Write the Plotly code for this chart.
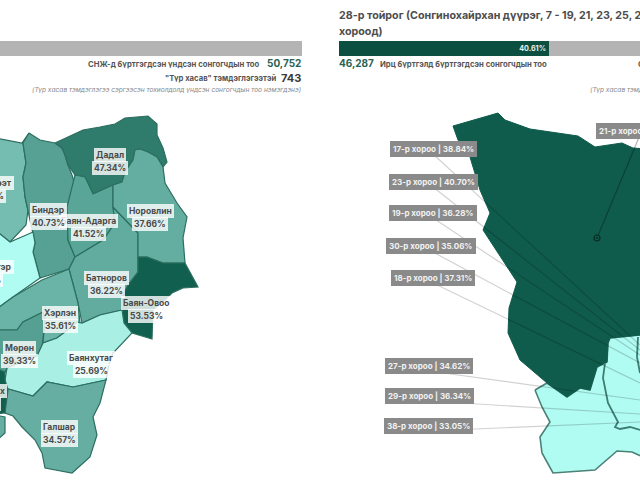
import plotly.graph_objects as go

FONT = "Inter"

# --- left map: aimag soums, outlines ---
soum_colors = ["#74bdb0", "#56a194", "#2f7b6c", "#59a698", "#62ab9f", "#64aea1", "#11604f",
               "#b0fbf2", "#6ab4a7", "#55a093", "#a9efe4", "#66aea2", "#11604f", "#66aea2"]

batshireet = [(-5, 138), (22, 143), (29, 133), (23, 143), (26, 163), (23, 177), (25, 197), (28, 210), (26, 225), (10, 242), (-5, 230)]
binder = [(29, 133), (40, 140), (55, 143), (62, 148), (65, 155), (68, 165), (72, 175), (75, 185), (67, 207), (68, 240), (75, 257), (69, 269), (40, 278), (33, 252), (35, 243), (32, 230), (28, 210), (25, 197), (23, 177), (26, 163), (23, 143)]
dadal = [(55, 143), (83, 130), (100, 127), (115, 124), (125, 118), (148, 116), (157, 124), (157, 135), (163, 148), (167, 162), (163, 167), (157, 157), (148, 152), (140, 149), (135, 150), (133, 160), (125, 172), (122, 182), (110, 188), (93, 194), (85, 177), (75, 175), (68, 165), (65, 155), (62, 148)]
bayan_adarga = [(75, 175), (85, 177), (93, 194), (113, 185), (113, 207), (115, 223), (103, 240), (75, 257), (68, 240), (67, 207)]
batnorov = [(113, 207), (138, 233), (138, 257), (138, 272), (128, 285), (122, 297), (122, 310), (100, 315), (82, 323), (78, 303), (69, 269), (75, 257), (103, 240), (115, 223)]
norovlin = [(135, 150), (140, 149), (148, 152), (157, 157), (163, 167), (165, 183), (177, 203), (187, 217), (183, 238), (185, 263), (163, 263), (147, 257), (138, 257), (138, 233), (113, 207), (113, 185), (122, 182), (125, 172), (133, 160)]
bayan_ovoo = [(138, 257), (147, 257), (163, 263), (185, 263), (198, 287), (183, 288), (172, 293), (165, 300), (153, 310), (152, 339), (132, 333), (124, 323), (122, 310), (122, 297), (128, 285), (138, 272)]
umnudelger = [(-5, 230), (10, 242), (33, 232), (35, 243), (33, 252), (40, 278), (13, 297), (-5, 310)]
herlen = [(-5, 310), (13, 297), (42, 280), (69, 269), (78, 303), (80, 323), (65, 332), (57, 338), (43, 343), (45, 320), (43, 312), (23, 322), (17, 330), (-5, 330)]
muren = [(-5, 330), (17, 330), (23, 322), (43, 312), (45, 320), (43, 340), (42, 347), (37, 356), (7, 368), (5, 372), (-5, 370)]
bayanhutag = [(122, 310), (100, 315), (82, 323), (77, 322), (65, 332), (57, 338), (43, 343), (37, 356), (7, 368), (5, 380), (5, 388), (33, 396), (47, 382), (73, 387), (106, 380), (109, 365), (113, 353), (132, 333), (124, 323)]
galshar = [(5, 388), (33, 396), (47, 382), (73, 387), (106, 380), (100, 403), (93, 417), (97, 435), (90, 457), (72, 473), (45, 468), (42, 453), (35, 440), (22, 427), (13, 416), (5, 413)]
bayanmunkh = [(-5, 368), (5, 372), (5, 380), (8, 390), (5, 413), (-5, 414)]
darkhan = [(-5, 415), (5, 417), (5, 433), (-5, 442)]
soum_shapes = [batshireet, binder, dadal, bayan_adarga, batnorov, norovlin, bayan_ovoo,
               umnudelger, herlen, muren, bayanhutag, galshar, bayanmunkh, darkhan]

soum_names = ["Дадал", "Норовлин", "Баян-Адарга", "Биндэр", "Батноров", "Баян-Овоо", "Хэрлэн", "Мөрөн", "Баянхутаг", "Галшар"]
soum_pct = ["47.34%", "37.66%", "41.52%", "40.73%", "36.22%", "53.53%", "35.61%", "39.33%", "25.69%", "34.57%"]
soum_label_x = [110, 150, 88, 48, 106, 146, 60, 19, 91, 59]
soum_label_y = [155, 211, 221, 210, 278, 303, 313, 348, 358, 427]

# names cut off by the left edge of the picture
cut_names = ["Батширээт", "Өмнөдэлгэр", "Баянмөнх"]
cut_pct = ["38.10%", "25.90%", "53.10%"]
cut_right = [14, 14, 7]
cut_pct_right = [6, 3, 1]
cut_y = [183, 267, 391]

# --- right map ---
dark_area = [(453, 126), (498, 113), (505, 120), (530, 129), (578, 136), (595, 147), (622, 143), (633, 148), (660, 150), (660, 333), (640, 335), (610, 338), (608, 343), (607, 362), (597, 367), (590, 390), (580, 388), (567, 397), (547, 383), (520, 360), (508, 333), (509, 308), (517, 282), (490, 240), (483, 230), (490, 213), (480, 190), (470, 157), (458, 140)]
light_area = [(535, 390), (547, 383), (567, 397), (580, 388), (590, 390), (597, 367), (607, 362), (608, 343), (610, 338), (640, 335), (660, 335), (660, 465), (632, 452), (617, 451), (595, 470), (553, 473), (542, 453), (540, 437), (550, 422), (542, 407)]
inner_border_a = [(605, 363), (603, 378), (608, 403), (618, 422), (615, 427), (620, 429), (630, 427), (640, 430)]
inner_border_b = [(638, 337), (637, 357), (640, 373)]

khoroo_labels = ["17-р хороо | 38.84%", "23-р хороо | 40.70%", "19-р хороо | 36.28%", "30-р хороо | 35.06%",
                 "18-р хороо | 37.31%", "27-р хороо | 34.62%", "29-р хороо | 36.34%", "38-р хороо | 33.05%"]
khoroo_x = [433, 433, 433, 431, 433, 429, 429, 428]
khoroo_y = [149, 182, 213, 246, 278, 366, 396, 426]
leader_end_x = [640, 640, 640, 640, 640, 640, 640, 640]
leader_end_y = [345, 350, 355, 363, 383, 400, 414, 422]

# --- header figures ---
turnout_pct = 40.61
rest_pct = 100 - turnout_pct
bar_total = 100


def poly(points):
    return [p[0] for p in points] + [points[0][0]], [p[1] for p in points] + [points[0][1]]


fig = go.Figure()

for shape, colour in zip(soum_shapes, soum_colors):
    xs, ys = poly(shape)
    fig.add_scatter(x=xs, y=ys, mode="lines", fill="toself", fillcolor=colour,
                    line=dict(color="#2c6e60", width=1.2), hoverinfo="skip", showlegend=False)

xs, ys = poly(light_area)
fig.add_scatter(x=xs, y=ys, mode="lines", fill="toself", fillcolor="#b0fbf2",
                line=dict(color="#4a8278", width=1.6), hoverinfo="skip", showlegend=False)
xs, ys = poly(dark_area)
fig.add_scatter(x=xs, y=ys, mode="lines", fill="toself", fillcolor="#0f5c4c",
                line=dict(color="#0f5c4c", width=1), hoverinfo="skip", showlegend=False)
for border in (inner_border_a, inner_border_b):
    fig.add_scatter(x=[p[0] for p in border], y=[p[1] for p in border], mode="lines",
                    line=dict(color="#3d7d72", width=1.8), hoverinfo="skip", showlegend=False)

# leader lines, see-through so they go darker over the map
for lx, ly, ex, ey in zip(khoroo_x, khoroo_y, leader_end_x, leader_end_y):
    fig.add_scatter(x=[lx, ex], y=[ly + 5, ey], mode="lines",
                    line=dict(color="rgba(0,0,0,0.18)", width=1.2), hoverinfo="skip", showlegend=False)
fig.add_scatter(x=[640, 597], y=[135, 238], mode="lines", line=dict(color="rgba(0,0,0,0.3)", width=1.2),
                hoverinfo="skip", showlegend=False)
fig.add_scatter(x=[597], y=[238], mode="markers", hoverinfo="skip", showlegend=False,
                marker=dict(size=6, color="#0f5c4c", line=dict(color="#06281f", width=1.2)))
fig.add_scatter(x=[597], y=[238], mode="markers", hoverinfo="skip", showlegend=False,
                marker=dict(size=2, color="#06281f"))

# turnout bars, each on its own axis
fig.add_bar(x=[turnout_pct], y=[0], orientation="h", marker=dict(color="#0b4f40", line_width=0),
            text=[f"<b>{turnout_pct}%</b>"], textposition="inside", insidetextanchor="end", textangle=0,
            textfont=dict(family=FONT, size=8, color="#e8f0ee"), xaxis="x2", yaxis="y2",
            showlegend=False, hoverinfo="skip")
fig.add_bar(x=[rest_pct], y=[0], orientation="h", marker=dict(color="#b4b4b4", line_width=0),
            xaxis="x2", yaxis="y2", showlegend=False, hoverinfo="skip")
fig.add_bar(x=[bar_total], y=[0], orientation="h", marker=dict(color="#b4b4b4", line_width=0),
            xaxis="x3", yaxis="y2", showlegend=False, hoverinfo="skip")

anns = []


def txt(x, y, s, anchor="left", size=8, color="#555555", borderpad=0, **kw):
    anns.append(dict(x=x, y=y, text=s, xref="x", yref="y", showarrow=False, xanchor=anchor, yanchor="middle",
                     borderwidth=0, borderpad=borderpad, font=dict(family=FONT, size=size, color=color), **kw))


def map_label(x, y, s, anchor="center"):
    txt(x, y, "<b>" + s + "</b>", anchor=anchor, size=8.5, color="#4a4a4a",
        bgcolor="rgba(255,255,255,0.8)", borderpad=2)


for name, pct, x, y in zip(soum_names, soum_pct, soum_label_x, soum_label_y):
    map_label(x, y, name)
    map_label(x, y + 13, pct)
for name, pct, x, px, y in zip(cut_names, cut_pct, cut_right, cut_pct_right, cut_y):
    map_label(x, y, name, anchor="right")
    map_label(px, y + 13, pct, anchor="right")

for s, x, y in zip(khoroo_labels, khoroo_x, khoroo_y):
    txt(x, y, "<b>" + s + "</b>", anchor="center", size=8, color="#f2f2f2", bgcolor="#8a8a8a", borderpad=3)
txt(596, 131, "<b>21-р хороо | 36.12%</b>", size=8, color="#f2f2f2", bgcolor="#8a8a8a", borderpad=3)

# header text
txt(260, 64, "<b>СНЖ-д бүртгэгдсэн үндсэн сонгогчдын тоо</b>", anchor="right", size=7.7)
txt(301, 63, "<b>50,752</b>", anchor="right", size=10, color="#2a6355")
txt(276, 78, "<b>\"Түр хасав\" тэмдэглэгээтэй</b>", anchor="right", size=7.7)
txt(301, 78, "<b>743</b>", anchor="right", size=11, color="#3a3a3a")
txt(301, 90, "<i>(Түр хасав тэмдэглэгээ сэргээсэн тохиолдолд үндсэн сонгогчдын тоо нэмэгдэнэ)</i>",
    anchor="right", size=6.6, color="#888888")
txt(339, 15, "<b>28-р тойрог (Сонгинохайрхан дүүрэг, 7 - 19, 21, 23, 25, 27 - 30, 38-р</b>", size=10.7, color="#4d4d4d")
txt(339, 31, "<b>хороод)</b>", size=10.7, color="#4d4d4d")
txt(339, 63, "<b>46,287</b>", size=10, color="#2a6355")
txt(380, 64, "<b>Ирц бүртгэлд бүртгэгдсэн сонгогчдын тоо</b>", size=7.7)
txt(638, 64, "<b>СНЖ-д бүртгэгдсэн үндсэн сонгогчдын тоо</b>", size=7.7)
txt(590, 90, "<i>(Түр хасав тэмдэглэгээ сэргээсэн тохиолдолд</i>", size=6.6, color="#888888")

hidden = dict(visible=False, fixedrange=True)
fig.update_layout(
    width=640, height=480, margin=dict(l=0, r=0, t=0, b=0),
    paper_bgcolor="white", plot_bgcolor="rgba(0,0,0,0)",
    barmode="stack", bargap=0,
    xaxis=dict(range=[0, 640], domain=[0, 1], **hidden),
    yaxis=dict(range=[480, 0], domain=[0, 1], **hidden),
    # the 518 px wide bars run off the picture
    xaxis2=dict(range=[0, 58.1], domain=[339 / 640, 1], anchor="y2", **hidden),
    xaxis3=dict(range=[41.7, 100], domain=[0, 302 / 640], anchor="y2", **hidden),
    yaxis2=dict(range=[-0.5, 0.5], domain=[1 - 56 / 480, 1 - 41 / 480], anchor="x2", **hidden),
    annotations=anns,
)

# drop the page's default body margin so the 640x480 figure fills the window
fig.write_html("out.html", config=dict(displayModeBar=False),
               post_script="document.body.style.margin='0';document.body.style.overflow='hidden';")
